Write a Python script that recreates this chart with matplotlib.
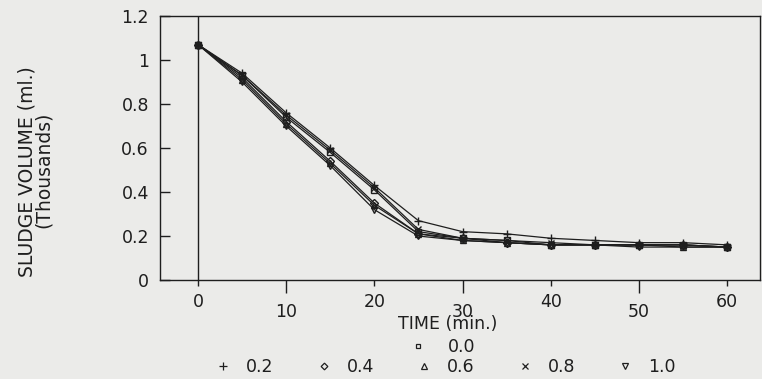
import matplotlib
matplotlib.use("Agg")
import matplotlib.pyplot as plt
from matplotlib.lines import Line2D

plt.rcParams['font.family'] = ['DejaVu Sans']

# settling time (min.) and sludge volume (thousands of ml) per dose
time_min = [0, 5, 10, 15, 20, 25, 30, 35, 40, 45, 50, 55, 60]
dose_labels = ['0.0', '0.2', '0.4', '0.6', '0.8', '1.0']
vol_00 = [1.07, 0.93, 0.74, 0.58, 0.41, 0.22, 0.19, 0.18, 0.16, 0.16, 0.16, 0.16, 0.15]
vol_02 = [1.07, 0.94, 0.76, 0.60, 0.43, 0.27, 0.22, 0.21, 0.19, 0.18, 0.17, 0.17, 0.16]
vol_04 = [1.07, 0.92, 0.72, 0.54, 0.35, 0.21, 0.19, 0.17, 0.16, 0.16, 0.16, 0.16, 0.15]
vol_06 = [1.07, 0.91, 0.71, 0.53, 0.34, 0.21, 0.18, 0.17, 0.16, 0.16, 0.16, 0.15, 0.15]
vol_08 = [1.07, 0.93, 0.75, 0.59, 0.42, 0.23, 0.19, 0.18, 0.17, 0.16, 0.16, 0.16, 0.15]
vol_10 = [1.07, 0.90, 0.70, 0.52, 0.32, 0.20, 0.18, 0.17, 0.16, 0.16, 0.15, 0.15, 0.15]

y_ticks = [0, 0.2, 0.4, 0.6, 0.8, 1.0, 1.2]
y_tick_labels = ['0', '0.2', '0.4', '0.6', '0.8', '1', '1.2']
x_ticks_short = [0, 20, 40, 60]
x_ticks_long = [10, 30, 50]

series = [vol_00, vol_02, vol_04, vol_06, vol_08, vol_10]
markers = ['s', '+', 'D', '^', 'x', 'v']
msizes = [4, 6, 4, 4.5, 5, 4.5]

fs = 12.5
ink = '#1e1e1e'
bg = '#ebebe9'
fig = plt.figure(figsize=(7.62, 3.79), dpi=100, facecolor=bg)
ax = fig.add_axes([0.21, 0.261, 0.787, 0.697], facecolor=bg)

for vals, m, ms in zip(series, markers, msizes):
    ax.plot(time_min, vals, color=ink, lw=0.9, marker=m, ms=ms,
            mfc='none', mec=ink, mew=1.0)

ax.axvline(0, color=ink, lw=1.0)

ax.set_xlim(-4.3, 63.7)
ax.set_ylim(0, 1.2)
ax.set_yticks(y_ticks)
ax.set_yticklabels(y_tick_labels)
ax.tick_params(axis='y', direction='in', length=7, width=1, pad=8, labelsize=fs, colors=ink)

ax.set_xticks(x_ticks_short)
ax.set_xticks(x_ticks_long, minor=True)
ax.set_xticklabels([str(v) for v in x_ticks_short])
ax.set_xticklabels([str(v) for v in x_ticks_long], minor=True)
ax.tick_params(axis='x', which='major', direction='out', length=4, width=1, pad=5.4,
               labelsize=fs, colors=ink)
ax.tick_params(axis='x', which='minor', direction='out', length=9, width=1, pad=7.5,
               labelsize=fs, colors=ink)

for s in ax.spines.values():
    s.set_linewidth(1.0)
    s.set_color(ink)

fig.text(0.588, 0.145, 'TIME (min.)', ha='center', va='center', fontsize=fs, color=ink)
fig.text(0.035, 0.546, 'SLUDGE VOLUME (ml.)', rotation=90, ha='center', va='center',
         fontsize=13.5, color=ink)
fig.text(0.057, 0.552, '(Thousands)', rotation=90, ha='center', va='center',
         fontsize=13.5, color=ink)

handles = [Line2D([], [], ls='none', marker=m, ms=ms * 0.85, mfc='none',
                  mec=ink, mew=0.9) for m, ms in zip(markers, msizes)]
fig.legend(handles[:1], dose_labels[:1], loc='center', bbox_to_anchor=(0.580, 0.084),
           frameon=False, fontsize=fs, handlelength=1.0, handletextpad=1.22,
           borderpad=0, borderaxespad=0, labelcolor=ink)
fig.legend(handles[1:], dose_labels[1:], loc='center', bbox_to_anchor=(0.584, 0.032),
           ncol=5, frameon=False, fontsize=fs, handlelength=1.0, handletextpad=0.82,
           columnspacing=2.39, borderpad=0, borderaxespad=0, labelcolor=ink)

fig.savefig('out.png', dpi=100, facecolor=bg)
